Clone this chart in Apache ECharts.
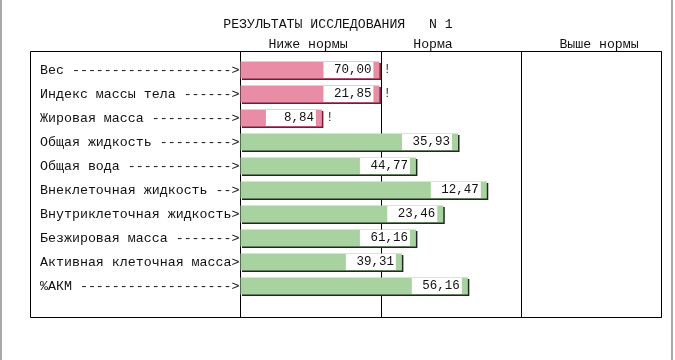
<!DOCTYPE html>
<html>
<head>
<meta charset="utf-8">
<script src="https://cdn.jsdelivr.net/npm/echarts@6/dist/echarts.min.js"></script>
<style>
html,body{margin:0;padding:0;background:#fff;}
#c{width:675px;height:360px;}
</style>
</head>
<body>
<div id="c"></div>
<script>
// ---- data ----
const titleText = 'РЕЗУЛЬТАТЫ ИССЛЕДОВАНИЯ   N 1';
const zoneHeaders = ['Ниже нормы', 'Норма', 'Выше нормы'];
const categories = [
  'Вес -------------------->',
  'Индекс массы тела ------>',
  'Жировая масса ---------->',
  'Общая жидкость --------->',
  'Общая вода ------------->',
  'Внеклеточная жидкость -->',
  'Внутриклеточная жидкость>',
  'Безжировая масса ------->',
  'Активная клеточная масса>',
  '%АКМ ------------------->'
];
// bar length in zone units (0-1 below norm, 1-2 norm, 2-3 above norm)
const barPositions = [0.99, 0.99, 0.58, 1.55, 1.25, 1.755, 1.445, 1.25, 1.15, 1.62];
// displayed measured values
const valueLabels = ['70,00', '21,85', '8,84', '35,93', '44,77', '12,47', '23,46', '61,16', '39,31', '56,16'];
const flags = ['!', '!', '!', '', '', '', '', '', '', ''];

const FONT = "'Liberation Mono','Courier New',monospace";
const chart = echarts.init(document.getElementById('c'), null, {renderer: 'canvas'});

const barData = barPositions.map((v, i) => {
  const low = v < 1;
  return {
    value: v,
    itemStyle: {
      color: low ? '#e98ca6' : '#a8d3a0',
      shadowColor: low ? '#7c1836' : '#1f2a1f',
      shadowOffsetX: 1.5,
      shadowOffsetY: 1.5,
      shadowBlur: 0
    }
  };
});

const option = {
  animation: false,
  backgroundColor: '#fff',
  grid: [
    {left: 30.5, top: 51.5, width: 210, height: 266, show: true, borderColor: '#000', borderWidth: 1, backgroundColor: 'transparent'},
    {left: 240.5, top: 51.5, width: 421, height: 266, show: true, borderColor: '#000', borderWidth: 1, backgroundColor: 'transparent'},
    {left: 240.5, top: 58, width: 421, height: 240, show: false}
  ],
  xAxis: [
    {gridIndex: 0, type: 'value', min: 0, max: 1, show: false},
    {gridIndex: 1, type: 'value', min: 0, max: 3, interval: 1,
      axisLine: {show: false}, axisTick: {show: false}, axisLabel: {show: false},
      splitLine: {show: true, lineStyle: {color: '#000', width: 1}}},
    {gridIndex: 2, type: 'value', min: 0, max: 3, show: false}
  ],
  yAxis: [
    {gridIndex: 0, type: 'value', show: false},
    {gridIndex: 1, type: 'value', show: false},
    {gridIndex: 2, type: 'category', inverse: true, data: categories,
      axisLine: {show: false}, axisTick: {show: false}, splitLine: {show: false},
      axisLabel: {margin: 1, color: '#111', fontFamily: FONT, fontSize: 13.3}}
  ],
  series: [
    {
      type: 'bar', xAxisIndex: 2, yAxisIndex: 2, data: barData, barWidth: 17,
      label: {
        show: true, position: 'insideRight', distance: 6,
        formatter: p => valueLabels[p.dataIndex],
        fontFamily: FONT, fontSize: 12.5, color: '#111',
        backgroundColor: '#fff', width: 46, height: 16, lineHeight: 16,
        padding: [0, 2, 0, 2], align: 'right'
      }
    },
    {
      type: 'bar', xAxisIndex: 2, yAxisIndex: 2, data: barPositions, barWidth: 17, barGap: '-100%',
      itemStyle: {color: 'rgba(0,0,0,0)'}, silent: true, z: 1,
      label: {
        show: true, position: 'right', distance: 4,
        formatter: p => flags[p.dataIndex],
        fontFamily: FONT, fontSize: 12.5, color: '#333'
      }
    }
  ],
  graphic: [
    {type: 'rect', shape: {x: 0, y: 0, width: 2, height: 360}, style: {fill: '#a8a8a8'}},
    {type: 'rect', shape: {x: 671, y: 0, width: 2, height: 360}, style: {fill: '#a8a8a8'}},
    {type: 'text', x: 338, y: 25, style: {text: titleText, font: '13.2px ' + FONT, fill: '#111', textAlign: 'center', textVerticalAlign: 'middle'}},
    {type: 'text', x: 308, y: 45, style: {text: zoneHeaders[0], font: '13.2px ' + FONT, fill: '#111', textAlign: 'center', textVerticalAlign: 'middle'}},
    {type: 'text', x: 433, y: 45, style: {text: zoneHeaders[1], font: '13.2px ' + FONT, fill: '#111', textAlign: 'center', textVerticalAlign: 'middle'}},
    {type: 'text', x: 599, y: 45, style: {text: zoneHeaders[2], font: '13.2px ' + FONT, fill: '#111', textAlign: 'center', textVerticalAlign: 'middle'}}
  ]
};
chart.setOption(option);
</script>
</body>
</html>
